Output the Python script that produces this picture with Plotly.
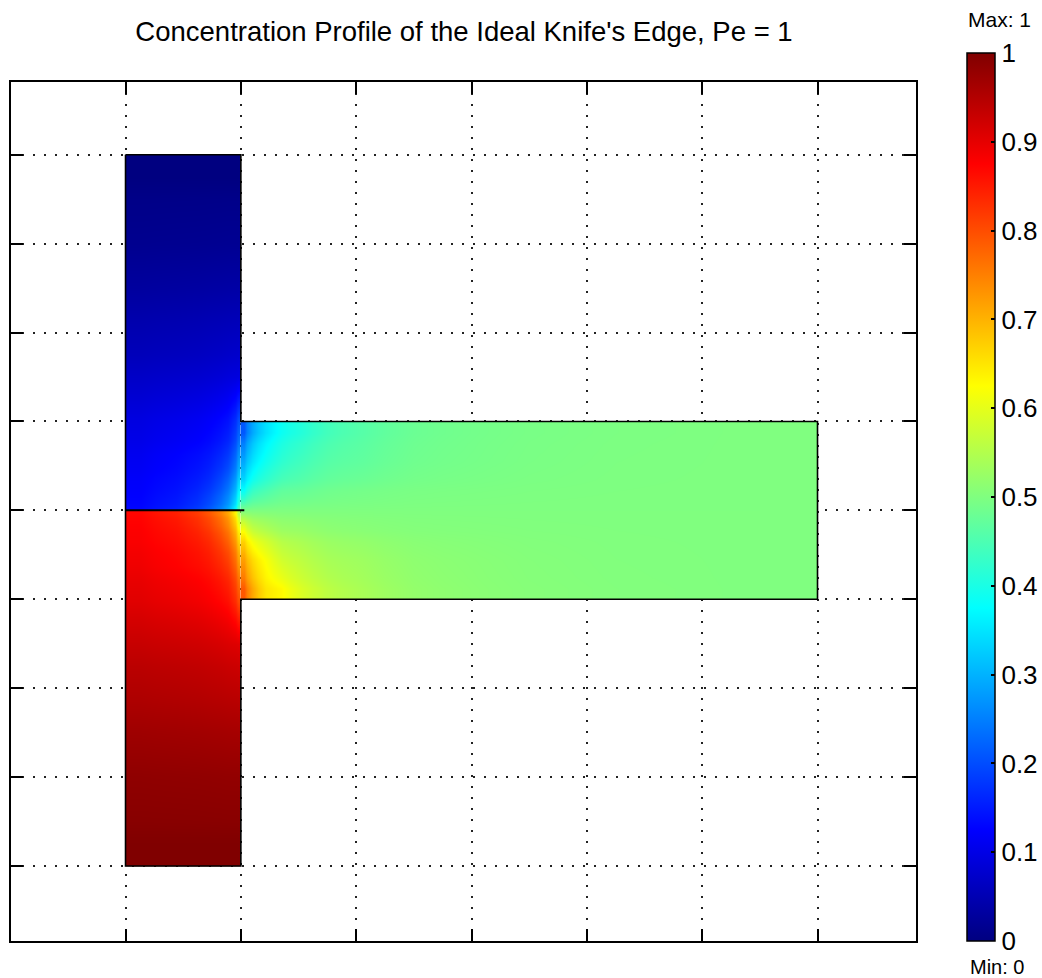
import plotly.graph_objects as go

# ---------------- data ----------------
# Upper inlet branch (x 0..1, y 4..8), concentration c
up_x = [0.0, 0.5, 0.75, 0.9, 1.0]
up_y = [4.0, 4.15, 4.35, 4.6, 5.0, 5.5, 6.0, 7.0, 8.0]
up_c = [
    [0.13, 0.155, 0.21, 0.29, 0.45],
    [0.125, 0.145, 0.19, 0.26, 0.39],
    [0.12, 0.135, 0.165, 0.22, 0.33],
    [0.11, 0.125, 0.145, 0.18, 0.27],
    [0.095, 0.105, 0.12, 0.14, 0.20],
    [0.07, 0.075, 0.082, 0.09, 0.095],
    [0.045, 0.048, 0.052, 0.055, 0.057],
    [0.015, 0.016, 0.017, 0.018, 0.018],
    [0.0, 0.0, 0.0, 0.0, 0.0],
]

# Lower inlet branch (x 0..1, y 0..4)
low_x = [0.0, 0.5, 0.75, 0.9, 1.0]
low_y = [0.0, 1.0, 2.0, 2.5, 3.0, 3.4, 3.65, 3.85, 4.0]
low_c = [
    [1.0, 1.0, 1.0, 1.0, 1.0],
    [0.985, 0.984, 0.983, 0.982, 0.982],
    [0.955, 0.952, 0.948, 0.945, 0.943],
    [0.93, 0.925, 0.918, 0.91, 0.905],
    [0.905, 0.895, 0.88, 0.86, 0.80],
    [0.89, 0.875, 0.855, 0.82, 0.73],
    [0.88, 0.865, 0.835, 0.78, 0.67],
    [0.875, 0.855, 0.81, 0.74, 0.61],
    [0.87, 0.845, 0.79, 0.71, 0.55],
]

# Outlet channel (x 1..6, y 3..5)
out_x = [1.0, 1.1, 1.2, 1.35, 1.5, 1.75, 2.0, 2.5, 3.0, 4.0, 6.0]
out_y = [3.0, 3.5, 3.8, 4.0, 4.2, 4.5, 5.0]
out_c = [
    [0.79, 0.71, 0.65, 0.63, 0.59, 0.56, 0.54, 0.52, 0.51, 0.503, 0.5],
    [0.72, 0.66, 0.62, 0.58, 0.56, 0.54, 0.53, 0.515, 0.508, 0.502, 0.5],
    [0.62, 0.57, 0.55, 0.53, 0.525, 0.515, 0.51, 0.505, 0.503, 0.501, 0.5],
    [0.5, 0.5, 0.5, 0.5, 0.5, 0.5, 0.5, 0.5, 0.5, 0.5, 0.5],
    [0.38, 0.43, 0.45, 0.47, 0.475, 0.485, 0.49, 0.495, 0.497, 0.499, 0.5],
    [0.29, 0.35, 0.39, 0.42, 0.44, 0.46, 0.47, 0.485, 0.492, 0.498, 0.5],
    [0.21, 0.29, 0.345, 0.385, 0.41, 0.44, 0.46, 0.48, 0.49, 0.497, 0.5],
]

# Domain outline and knife edge
outline_x = [0, 1, 1, 6, 6, 1, 1, 0, 0]
outline_y = [8, 8, 5, 5, 3, 3, 0, 0, 8]
knife_x = [0, 1.03]
knife_y = [4, 4]

cbar_ticks = [0, 0.1, 0.2, 0.3, 0.4, 0.5, 0.6, 0.7, 0.8, 0.9, 1]
cbar_labels = ["0", "0.1", "0.2", "0.3", "0.4", "0.5", "0.6", "0.7", "0.8", "0.9", "1"]

title_text = "Concentration Profile of the Ideal Knife's Edge, Pe = 1"

# ---------------- figure ----------------
FONT = "Liberation Sans, Arial, sans-serif"

jet = [[0.0, "rgb(0,0,128)"], [0.125, "rgb(0,0,255)"], [0.375, "rgb(0,255,255)"],
       [0.625, "rgb(255,255,0)"], [0.875, "rgb(255,0,0)"], [1.0, "rgb(128,0,0)"]]


def edges(s):
    return [s[0]] + [(a + b) / 2 for a, b in zip(s[:-1], s[1:])] + [s[-1]]


fig = go.Figure()
for xs, ys, zs in [(up_x, up_y, up_c), (low_x, low_y, low_c), (out_x, out_y, out_c)]:
    fig.add_trace(go.Heatmap(x=edges(xs), y=edges(ys), z=zs, coloraxis="coloraxis",
                             zsmooth="best", hoverinfo="skip"))

fig.add_trace(go.Scatter(x=outline_x, y=outline_y, mode="lines",
                         line=dict(color="black", width=1.6), hoverinfo="skip", showlegend=False))
fig.add_trace(go.Scatter(x=knife_x, y=knife_y, mode="lines",
                         line=dict(color="black", width=2), hoverinfo="skip", showlegend=False))

# plot-area geometry (px)
L, R, T, B = 11, 916, 82, 941
W, H = 1042, 978
pw, ph = R - L, B - T
cb_left, cb_right, cb_top, cb_bot = 967, 995, 53, 941

fig.update_layout(
    width=W, height=H,
    margin=dict(l=L, r=W - R, t=T, b=H - B, pad=0, autoexpand=False),
    paper_bgcolor="white", plot_bgcolor="white",
    showlegend=False,
    title=dict(text=title_text, x=(464 - L) / pw, xref="paper", xanchor="center",
               y=1 - 31 / H, yanchor="middle",
               font=dict(family=FONT, size=27.5, color="black")),
    coloraxis=dict(
        colorscale=jet, cmin=0, cmax=1,
        colorbar=dict(
            thicknessmode="pixels", thickness=cb_right - cb_left,
            lenmode="pixels", len=cb_bot - cb_top,
            x=(cb_left - L) / pw, xanchor="left", xpad=0,
            y=(B - cb_top) / ph, yanchor="top", ypad=0,
            outlinewidth=1.5, outlinecolor="black",
            tickmode="array", tickvals=cbar_ticks, ticktext=cbar_labels,
            ticks="inside", ticklen=4, tickwidth=2, tickcolor="black",
            tickfont=dict(family=FONT, size=26, color="black"),
        ),
    ),
    xaxis=dict(range=[-0.993, 6.854], tickvals=[0, 1, 2, 3, 4, 5, 6],
               showticklabels=False, ticks="inside", ticklen=12, tickwidth=2, tickcolor="black",
               showgrid=True, gridcolor="#222", gridwidth=2, griddash="2px,9px",
               showline=True, linecolor="black", linewidth=2, mirror="allticks",
               zeroline=False, fixedrange=True),
    yaxis=dict(range=[-0.844, 8.818], tickvals=[0, 1, 2, 3, 4, 5, 6, 7, 8],
               showticklabels=False, ticks="inside", ticklen=12, tickwidth=2, tickcolor="black",
               showgrid=True, gridcolor="#222", gridwidth=2, griddash="2px,9px",
               showline=True, linecolor="black", linewidth=2, mirror="allticks",
               zeroline=False, fixedrange=True),
)

# left-side colorbar tick marks (MATLAB style ticks on both edges)
for v in cbar_ticks[1:-1]:
    ypx = cb_bot - v * (cb_bot - cb_top)
    fig.add_shape(type="line", xref="paper", yref="paper",
                  x0=(cb_left - L) / pw, x1=(cb_left + 4 - L) / pw,
                  y0=(B - ypx) / ph, y1=(B - ypx) / ph,
                  line=dict(color="black", width=2))

fig.add_annotation(text="Max: 1", xref="paper", yref="paper",
                   x=(999 - L) / pw, y=(B - 20) / ph, xanchor="center", yanchor="middle",
                   showarrow=False, font=dict(family=FONT, size=21, color="black"))
fig.add_annotation(text="Min: 0", xref="paper", yref="paper",
                   x=(997 - L) / pw, y=(B - 967) / ph, xanchor="center", yanchor="middle",
                   showarrow=False, font=dict(family=FONT, size=20, color="black"))

fig.write_html("out.html")
